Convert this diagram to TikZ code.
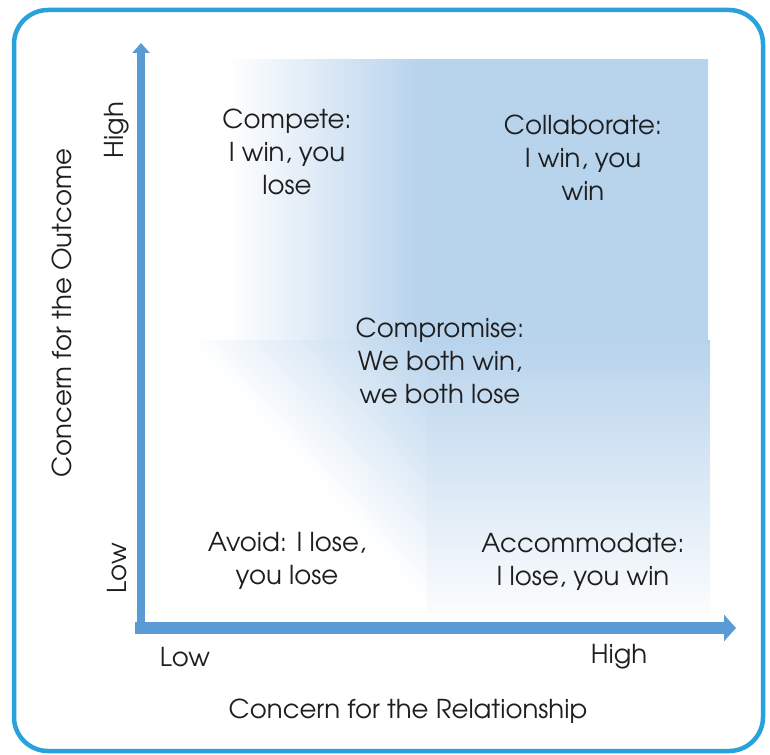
\documentclass[tikz,border=0pt]{standalone}
\usepackage{fontspec}
\setmainfont{TeX Gyre Adventor}
\usetikzlibrary{arrows.meta,positioning}
\definecolor{qblue}{RGB}{184,211,236}
\definecolor{axisblue}{RGB}{91,155,213}
\definecolor{frameblue}{RGB}{41,161,219}
\definecolor{txtgray}{RGB}{30,30,30}
\pgfdeclarehorizontalshading{topfade}{100bp}{color(0bp)=(white); color(25bp)=(white); color(45bp)=(qblue); color(100bp)=(qblue)}
\pgfdeclarehorizontalshading{lowfade}{100bp}{color(0bp)=(white); color(50bp)=(white); color(59bp)=(qblue); color(100bp)=(qblue)}

\begin{document}
\begin{tikzpicture}[x=1pt,y=-1pt,
  quad/.style={align=center,text=txtgray,font=\fontsize{26}{33}\selectfont},
  axlbl/.style={text=txtgray,font=\fontsize{26}{30}\selectfont},
  yaxis/.style={axisblue,line width=8pt,-{Triangle[width=17pt,length=10pt]}},
  xaxis/.style={axisblue,line width=12pt,-{Triangle[width=26pt,length=12pt]}}]
\useasboundingbox (0,0) rectangle (770,754);
% shaded regions
\begin{scope}
  \clip (228,60) rectangle (708,340);
  \shade[shading=topfade] (228,60) rectangle (708,540);
\end{scope}
\begin{scope}
  \clip (180,340) rectangle (428,612);
  \shade[shading=lowfade,transform canvas={shift={(310,475)},rotate=42}] (-500,-500) rectangle (500,500);
\end{scope}
\shade[top color=qblue,bottom color=qblue!6] (427,340) rectangle (710,612);
% frame
\draw[frameblue,line width=4.5pt,rounded corners=34pt] (14,10) rectangle (763,751);
% axes
\coordinate (vbot) at (141,634);
\coordinate (vtop) at (141,43);
\coordinate (hleft) at (135,628);
\coordinate (hright) at (736,628);
\draw[yaxis] (vbot) -- (vtop);
\draw[xaxis] (hleft) -- (hright);
% quadrant labels
\node[quad] (compete) at (287,152) {Compete:\\I win, you\\lose};
\node[quad] (collab) at (583,158) {Collaborate:\\I win, you\\win};
\node[quad] (compromise) at (440,361) {Compromise:\\We both win,\\we both lose};
\node[quad] (avoid) at (287,561) {Avoid: I lose,\\you lose};
\node[quad] (accom) at (583,562) {Accommodate:\\I lose, you win};
% axis labels
\node[axlbl,rotate=90] (yhigh) at (117,130) {High};
\node[axlbl,rotate=90] (ylow) at (117,568) {Low};
\node[axlbl,rotate=90] (ytitle) at (62,313) {Concern for the Outcome};
\node[axlbl] (xlow) at (185,657) {Low};
\node[axlbl] (xhigh) at (619,657) {High};
\node[axlbl] (xtitle) at (408,711) {Concern for the Relationship};
\end{tikzpicture}
\end{document}
